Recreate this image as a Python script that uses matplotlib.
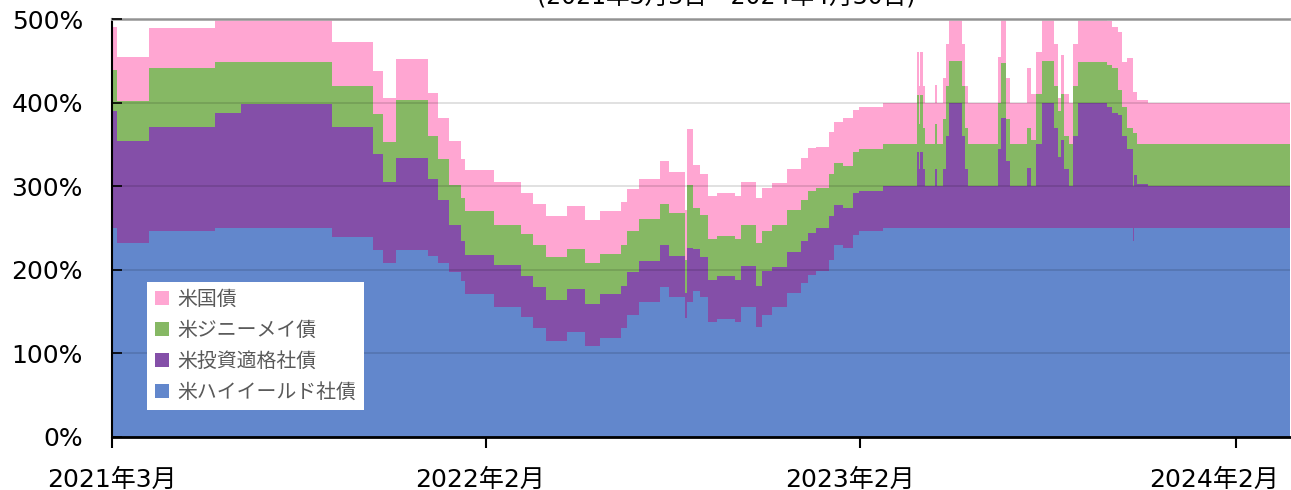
import matplotlib
matplotlib.use('Agg')
import matplotlib.pyplot as plt
import matplotlib.transforms as mtransforms
from matplotlib.patches import Patch
import numpy as np

plt.rcParams['font.family'] = ['DejaVu Sans', 'Noto Sans CJK JP']

# 営業日インデックスでの区間終端と、各区間の配分比率(%)
seg_end = [3, 25, 69, 86, 147, 174, 181, 190, 211, 218, 225, 233, 236, 255,
           273, 281, 290, 304, 316, 326, 340, 344, 352, 366, 372, 383, 384,
           388, 393, 398, 404, 416, 420, 430, 434, 441, 451, 460, 465, 470,
           479, 482, 488, 495, 499, 515, 538, 539, 540, 542, 543, 550, 551,
           555, 557, 559, 568, 570, 572, 592, 594, 597, 600, 611, 614, 617,
           621, 629, 632, 634, 636, 639, 642, 645, 665, 668, 672, 675, 678,
           682, 683, 685, 692, 787]

high_yield = [250, 232, 246, 250, 250, 239, 224, 208, 224, 217, 208, 197, 186,
              171, 155, 144, 130, 115, 126, 109, 119, 130, 146, 162, 179, 168,
              142, 162, 175, 167, 138, 141, 138, 155, 132, 146, 156, 172, 184,
              194, 199, 212, 230, 226, 242, 246, 250, 250, 250, 250, 250, 250,
              250, 250, 250, 250, 250, 250, 250, 250, 250, 250, 250, 250, 250,
              250, 250, 250, 250, 250, 250, 250, 250, 250, 250, 250, 250, 250,
              250, 250, 234, 250, 250, 250]

inv_grade = [140, 122, 125, 137, 148, 132, 114, 97, 110, 92, 75, 57, 48, 47,
             51, 48, 49, 49, 51, 50, 52, 51, 51, 48, 51, 49, 30, 64, 50, 48,
             50, 51, 50, 50, 49, 52, 47, 49, 50, 50, 51, 52, 48, 48, 50, 48,
             50, 91, 70, 91, 70, 50, 70, 50, 70, 110, 150, 110, 70, 50, 95,
             131, 80, 50, 72, 50, 100, 150, 120, 85, 105, 70, 50, 110, 150,
             145, 137, 135, 110, 95, 66, 63, 53, 50]

ginnie_mae = [49, 48, 70, 62, 51, 49, 48, 48, 69, 51, 50, 48, 52, 52, 48, 51,
              51, 51, 48, 49, 48, 49, 49, 51, 49, 51, 40, 75, 49, 51, 49, 49,
              49, 49, 51, 49, 51, 51, 49, 50, 48, 50, 50, 50, 49, 51, 50, 68,
              55, 68, 50, 50, 55, 50, 60, 60, 50, 60, 50, 50, 55, 66, 50, 50,
              48, 55, 60, 50, 50, 55, 55, 40, 50, 60, 49, 50, 54, 30, 35, 25,
              64, 51, 47, 50]

treasury = [51, 52, 48, 55, 55, 52, 52, 53, 49, 51, 49, 52, 47, 49, 51, 49,
            49, 49, 51, 51, 51, 51, 51, 48, 51, 49, 60, 68, 51, 48, 51, 51,
            51, 51, 54, 51, 50, 49, 51, 52, 49, 51, 49, 58, 50, 50, 50, 51,
            45, 51, 50, 50, 46, 50, 50, 50, 55, 50, 50, 50, 55, 53, 50, 50,
            71, 55, 50, 55, 50, 15, 47, 50, 50, 50, 56, 53, 49, 70, 54, 83,
            49, 49, 53, 50]

labels = ['米ハイイールド社債', '米投資適格社債', '米ジニーメイ債', '米国債']
colors = ['#6287CC', '#844FA8', '#86B864', '#FFA6D2']

tick_pos = [0, 250, 500, 751]
tick_labels = ['2021年3月', '2022年2月', '2023年2月', '2024年2月']

x = [0] + seg_end
series = [s + [s[-1]] for s in (high_yield, inv_grade, ginnie_mae, treasury)]

fig = plt.figure(figsize=(12.91, 4.90), dpi=100)
ax = fig.add_axes([0.0868, 0.1082, 0.9125, 0.8530])

ax.stackplot(x, *series, colors=colors, step='post', linewidth=0)

ax.set_xlim(0, 787)
ax.set_ylim(0, 500)

# グリッド（塗りの上に薄く）
ax.set_axisbelow(False)
ax.set_yticks([0, 100, 200, 300, 400, 500])
ax.set_yticklabels(['0%', '100%', '200%', '300%', '400%', '500%'])
ax.yaxis.grid(True, color='black', alpha=0.13, linewidth=1.3)
ax.tick_params(axis='y', direction='in', length=7, width=1.2, labelsize=18, pad=21)

ax.set_xticks(tick_pos)
ax.set_xticklabels(tick_labels)
ax.tick_params(axis='x', direction='out', length=8, width=1.5, labelsize=18, pad=14)
xlbls = ax.get_xticklabels()
offsets = [0, -6, -10, -22]
for lbl, off in zip(xlbls, offsets):
    lbl.set_transform(lbl.get_transform() +
                      mtransforms.ScaledTranslation(off / 100, 0, fig.dpi_scale_trans))

ax.spines['right'].set_visible(False)
ax.spines['top'].set_color('#A6A6A6')
ax.spines['top'].set_linewidth(2)
ax.spines['left'].set_linewidth(1.5)
ax.spines['bottom'].set_linewidth(2)

handles = [Patch(facecolor=c, edgecolor='none') for c in colors[::-1]]
leg = ax.legend(handles, labels[::-1], loc='lower left',
                bbox_to_anchor=(0.0297, 0.0646), borderaxespad=0,
                fontsize=14.3, frameon=True, fancybox=False, framealpha=1,
                handlelength=0.7, handleheight=0.7, handletextpad=0.4,
                labelspacing=0.6, borderpad=0.4)
leg.get_frame().set_edgecolor('none')
for t in leg.get_texts():
    t.set_color('#595959')

fig.text(0.5624, 0.9816, '(2021年3月3日～2024年4月30日)', ha='center',
         va='bottom', fontsize=17)

fig.savefig('out.png', dpi=100)
